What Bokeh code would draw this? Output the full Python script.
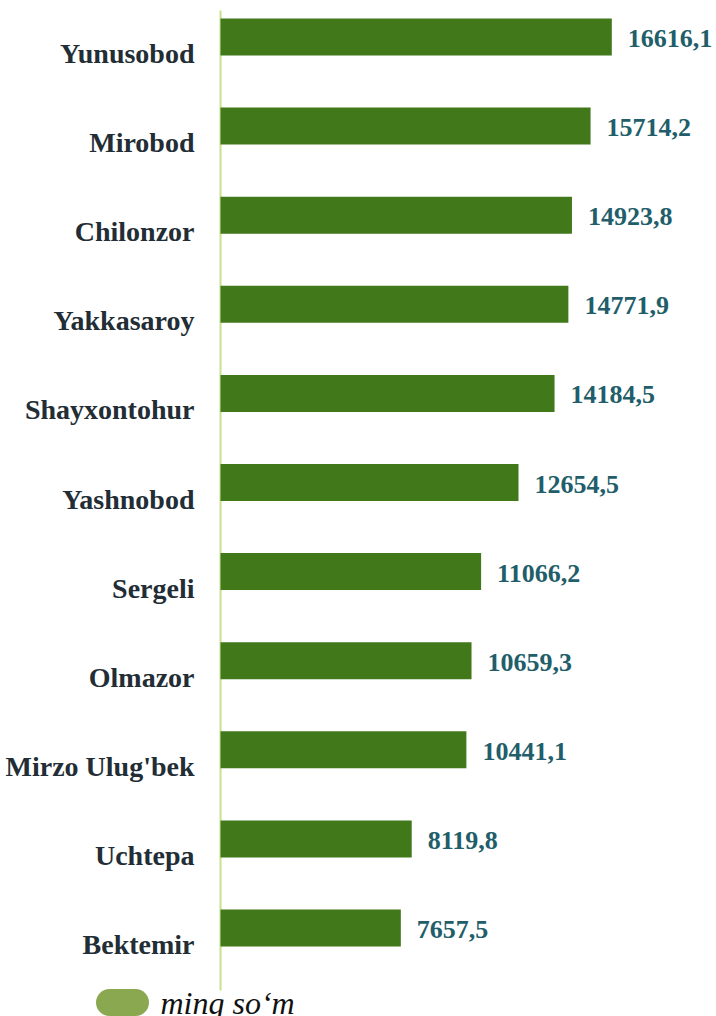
from bokeh.plotting import figure
from bokeh.models import Range1d, ColumnDataSource
from bokeh.core.properties import value
from bokeh.embed import file_html
from bokeh.resources import INLINE

categories = ["Yunusobod", "Mirobod", "Chilonzor", "Yakkasaroy", "Shayxontohur",
              "Yashnobod", "Sergeli", "Olmazor", "Mirzo Ulug'bek", "Uchtepa", "Bektemir"]
values = [16616.1, 15714.2, 14923.8, 14771.9, 14184.5, 12654.5,
          11066.2, 10659.3, 10441.1, 8119.8, 7657.5]
value_labels = [f"{v:.1f}".replace(".", ",") for v in values]
legend_label = "ming so\u2018m"

W, H = 716, 1016
OX, OY = 0, 0        # page offset of the canvas
# layout mapping (page pixels)
PX0 = 220.0          # page x of value 0
K = 0.02355          # px per unit
U = 1.0 / K
Y0 = 36.5            # page y of first bar centre
DY = 89.1            # px between bars


def px_x(px):
    return (px - PX0) * U


def px_y(py):
    return (py - Y0) / DY


pos = list(range(len(categories)))
src = ColumnDataSource(dict(y=pos, v=values, cat=categories, lab=value_labels,
                            zero=[0] * len(pos)))

p = figure(width=W, height=H, output_backend="svg", toolbar_location=None,
           x_range=Range1d(px_x(OX), px_x(OX + W)),
           y_range=Range1d(px_y(OY + H), px_y(OY)),
           min_border=0)
p.axis.visible = False
p.grid.visible = False
p.outline_line_color = None
p.background_fill_color = "white"

# vertical axis line
p.segment(x0=[0], x1=[0], y0=[px_y(10)], y1=[px_y(990)],
          line_color="#c8e28c", line_width=2)

p.hbar(y="y", left=0, right="v", height=0.415, source=src,
       fill_color="#41781a", line_color=None)

p.text(x="v", y="y", text="lab", source=src, x_offset=16, y_offset=1.5,
       text_font=value("Liberation Serif"), text_font_style="bold",
       text_font_size="26px", text_color="#215e6a",
       text_align="left", text_baseline="alphabetic")

p.text(x="zero", y="y", text="cat", source=src, x_offset=-26, y_offset=16.5,
       text_font=value("Liberation Serif"), text_font_style="bold",
       text_font_size="28px", text_color="#222d35",
       text_align="right", text_baseline="alphabetic")

# legend
p.segment(x0=[px_x(109)], x1=[px_x(135)], y0=[px_y(1002)], y1=[px_y(1002)],
          line_color="#8aa84f", line_width=27, line_cap="round")
p.text(x=[px_x(160)], y=[px_y(1002)], text=[legend_label],
       text_font=value("Liberation Serif"), text_font_style="italic",
       text_font_size="32px", text_color="#111111",
       text_align="left", text_baseline="alphabetic")

open("out.html", "w").write(file_html(p, INLINE))
